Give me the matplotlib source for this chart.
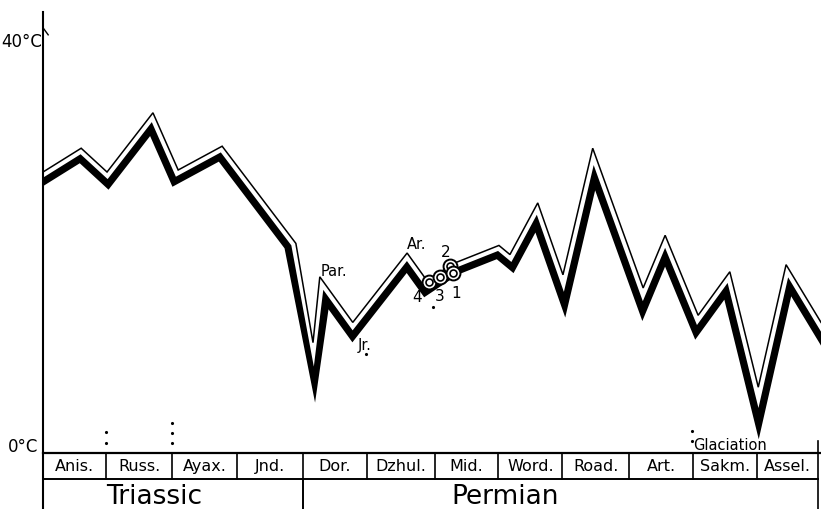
import numpy as np
import matplotlib
matplotlib.use("Agg")
import matplotlib.pyplot as plt

plt.rcParams['font.family'] = ['DejaVu Sans']

# ---------------- data ----------------
# position along the stage scale (1 unit = one stage column) and temperature (°C)
x_pos = [0.0, 0.59, 0.99, 1.70, 2.09, 2.77, 3.91, 4.175, 4.28, 4.79, 5.63, 5.94,
         6.34, 7.05, 7.22, 7.65, 8.04, 8.50, 9.28, 9.62, 10.13, 10.62, 11.06, 11.49, 12.03]
temps = [27.75, 30.1, 27.75, 33.6, 27.95, 30.3, 20.7, 10.9, 17.4, 12.9, 19.75, 17.0,
         18.7, 20.5, 19.6, 24.7, 17.6, 30.1, 16.3, 21.5, 13.6, 17.9, 6.5, 18.6, 12.9]

# sample circles (numbered 1-4)
sample_ids = ["4", "3", "2", "1"]
sample_x = [5.97, 6.14, 6.29, 6.34]
sample_T = [16.9, 17.4, 18.5, 17.8]

stages = ["Anis.", "Russ.", "Ayax.", "Jnd.", "Dor.", "Dzhul.", "Mid.", "Word.",
          "Road.", "Art.", "Sakm.", "Assel."]
stage_edges = [0, 0.97, 2.0, 3.0, 4.02, 5.01, 6.06, 7.04, 8.03, 9.06, 10.05, 11.04, 11.98]
periods = ["Triassic", "Permian"]
period_edges = [0, 4.02, 11.98]
period_label_x = [1.72, 7.14]

# ---------------- figure ----------------
fig = plt.figure(figsize=(8.21, 5.09), dpi=100)
ax = fig.add_axes([0, 0, 1, 1])
ax.set_xlim(-0.665, 12.03)
ax.set_ylim(-5.53, 44.74)
ax.axis('off')

ROW1 = -2.57   # bottom of stage row
BOT = -5.53


def offset_polyline(xs, ys, d, miter_cap=5.0):
    P = ax.transData.transform(np.column_stack([xs, ys]))
    seg = np.diff(P, axis=0)
    t = seg / np.linalg.norm(seg, axis=1)[:, None]
    n = np.column_stack([t[:, 1], -t[:, 0]])
    out = np.empty_like(P)
    s0 = -d * n[0, 0] / t[0, 0]
    out[0] = P[0] + d * n[0] + s0 * t[0]
    s1 = -d * n[-1, 0] / t[-1, 0]
    out[-1] = P[-1] + d * n[-1] + s1 * t[-1]
    for i in range(1, len(P) - 1):
        m = (n[i - 1] + n[i]) / (1 + np.dot(n[i - 1], n[i]))
        L = np.linalg.norm(m)
        if L > miter_cap:
            m = m / L * miter_cap
        out[i] = P[i] + d * m
    return ax.transData.inverted().transform(out)


top = offset_polyline(x_pos, temps, 4.8)
bot = offset_polyline(x_pos, temps, 12.0)
poly = np.vstack([top, bot[::-1]])
ax.fill(poly[:, 0], poly[:, 1], color='black', lw=0, zorder=2)
ax.plot(x_pos, temps, color='black', lw=1.1, solid_joinstyle='miter', zorder=3)

# sample circles
for i, (sx, sT) in enumerate(zip(sample_x, sample_T)):
    ax.plot(sx, sT, 'o', ms=10, mfc='white', mec='black', mew=1.4, zorder=5 + i)
    ax.plot(sx, sT, 'o', ms=5, mfc='white', mec='black', mew=1.2, zorder=5 + i)

# axes lines
ax.plot([0, 0], [43.56, BOT], color='black', lw=1.5, zorder=4)
ax.plot([0, 0.08], [42.0, 41.3], color='black', lw=1.0, zorder=4)
ax.plot([0, 12.03], [0, 0], color='black', lw=1.6, zorder=4)
ax.plot([0, stage_edges[-1]], [ROW1, ROW1], color='black', lw=1.4, zorder=4)
ax.plot([stage_edges[-1]] * 2, [1.2, BOT], color='black', lw=1.2, zorder=4)
for e in stage_edges[1:-1]:
    ax.plot([e, e], [0, ROW1], color='black', lw=1.2, zorder=4)
for e in period_edges[1:-1]:
    ax.plot([e, e], [ROW1, BOT], color='black', lw=1.4, zorder=4)

for i, s in enumerate(stages):
    cx = (stage_edges[i] + stage_edges[i + 1]) / 2
    ax.text(cx, -1.35, s, ha='center', va='center', fontsize=11.5)
for p, px in zip(periods, period_label_x):
    ax.text(px, -4.3, p, ha='center', va='center', fontsize=19)

ax.text(-0.015, 40.6, "40°C", ha='right', va='center', fontsize=12)
ax.text(-0.077, 0.6, "0°C", ha='right', va='center', fontsize=12)

# annotations
ax.text(4.30, 17.9, "Par.", ha='left', va='center', fontsize=10.5)
ax.text(5.63, 20.6, "Ar.", ha='left', va='center', fontsize=10.5)
ax.text(4.86, 10.6, "Jr.", ha='left', va='center', fontsize=10.5)
ax.plot(5.0, 9.8, marker='.', ms=2.5, color='black')
for lbl, lx, lT in [("1", 6.39, 15.8), ("2", 6.22, 19.8), ("3", 6.14, 15.5), ("4", 5.78, 15.4)]:
    ax.text(lx, lT, lbl, ha='center', va='center', fontsize=11)
ax.plot(6.03, 14.4, marker='.', ms=2.5, color='black')

ax.text(10.06, 0.7, "Glaciation", ha='left', va='center', fontsize=10.5)
ax.plot([10.04, 10.04], [2.15, 1.15], ls='none', marker='.', ms=2.5, color='black')
ax.plot([0.974, 0.974], [2.07, 0.99], ls='none', marker='.', ms=2.5, color='black')
ax.plot([1.99] * 3, [2.96, 1.98, 0.99], ls='none', marker='.', ms=2.5, color='black')

fig.savefig("out.png", dpi=100, facecolor='white')
